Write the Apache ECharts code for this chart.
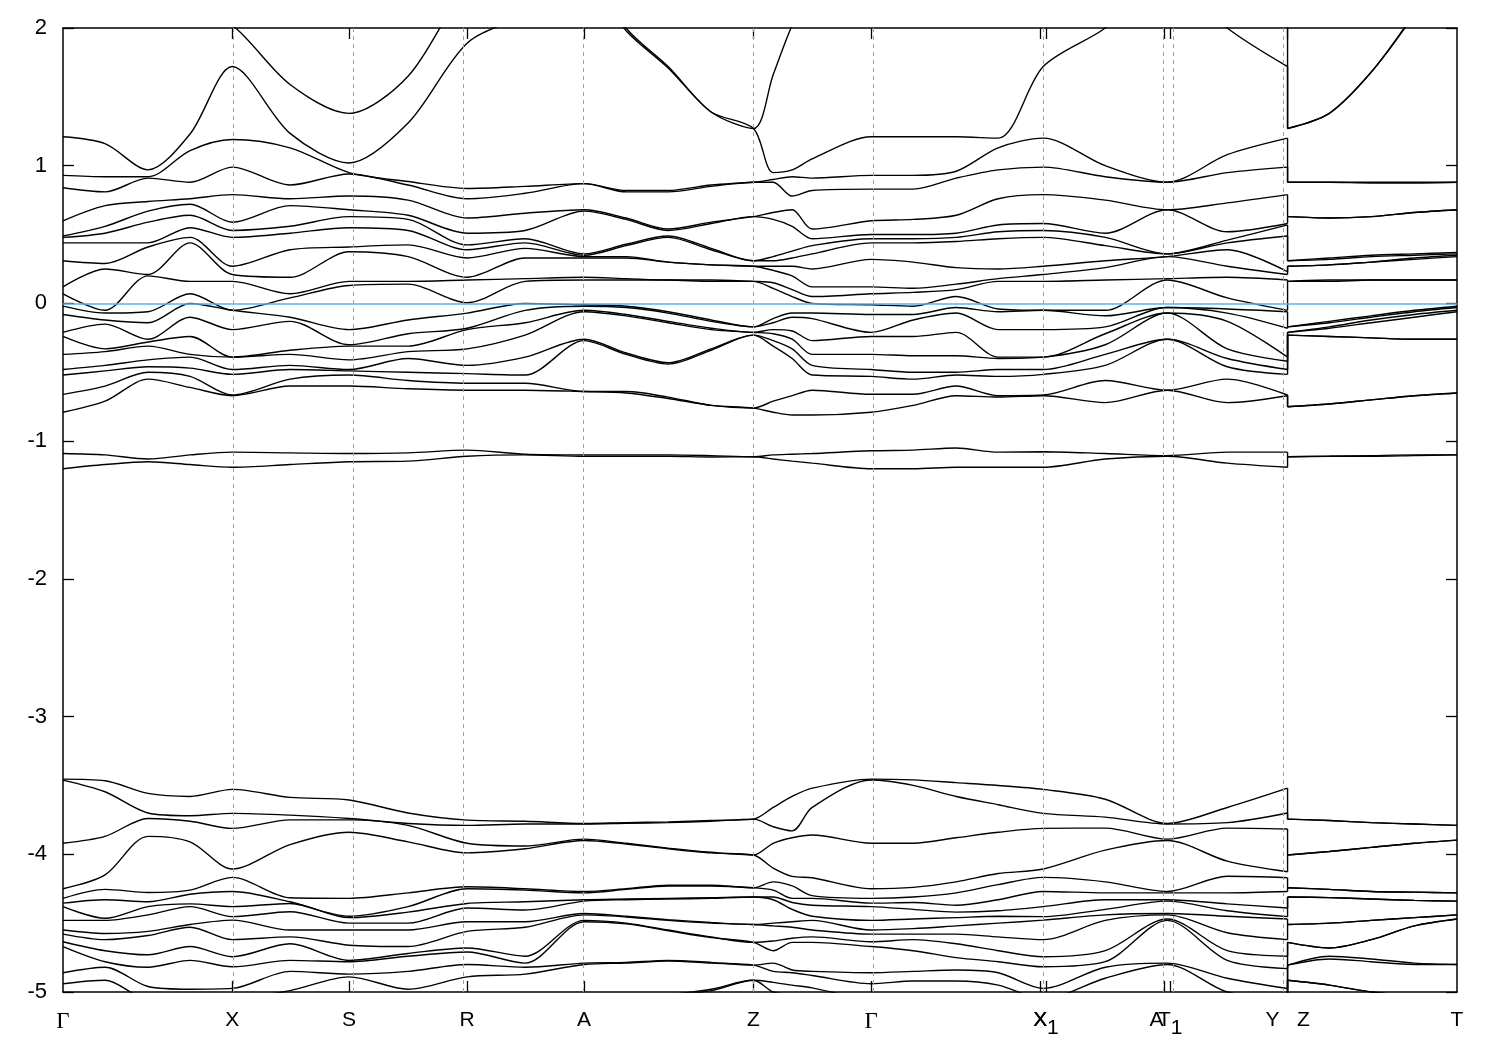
<!DOCTYPE html>
<html>
<head>
<meta charset="utf-8">
<script src="https://cdn.jsdelivr.net/npm/echarts@6/dist/echarts.min.js"></script>
<style>html,body{margin:0;padding:0;background:#fff}#c{width:1500px;height:1050px}</style>
</head>
<body>
<div id="c"></div>
<script>
// k-path positions of the sampled columns (path length units)
const kPoints = [0, 0.042, 0.085, 0.127, 0.1693, 0.227, 0.286, 0.345, 0.404, 0.462, 0.521, 0.563, 0.605, 0.648, 0.6903, 0.710, 0.729, 0.749, 0.808, 0.850, 0.893, 0.935, 0.980, 1.042, 1.104, 1.164, 1.2243, 1.2243, 1.266, 1.308, 1.351, 1.3937];
const kEnd = 1.3937;
// high-symmetry points
const kTickPos = [0.1693, 0.286, 0.404, 0.521, 0.6903, 0.808, 0.9773, 0.9827, 1.1013, 1.107, 1.2243];
const kLabelPos = [0, 0.1693, 0.286, 0.404, 0.521, 0.6903, 0.808, 0.9773, 0.9827, 1.1013, 1.107, 1.2243, 1.3937];
const kLabelText = ['Γ', 'X', 'S', 'R', 'A', 'Z', 'Γ', 'X', 'X_1', 'A<', 'T_1', 'Y   Z', 'T'];
const yTicks = [-5, -4, -3, -2, -1, 0, 1, 2];
const fermiLevel = 0;

// energies (eV) at each sampled k column, all bands
const e00 = [2.5, 1.21, 0.93, 0.84, 0.60, 0.49, 0.48, 0.44, 0.31, 0.12, 0.07, -0.02, -0.08, -0.21, -0.24, -0.37, -0.48, -0.52, -0.66, -0.79, -1.09, -1.20, -3.454, -3.461, -3.92, -4.25, -4.32, -4.355, -4.38, -4.48, -4.55, -4.58, -4.635, -4.67, -4.86, -4.94, -5.05, -5.1];
const e01 = [2.4, 1.16, 0.92, 0.81, 0.71, 0.56, 0.51, 0.44, 0.29, 0.25, -0.05, -0.07, -0.12, -0.15, -0.33, -0.35, -0.45, -0.49, -0.60, -0.71, -1.10, -1.17, -3.466, -3.546, -3.87, -4.15, -4.255, -4.33, -4.465, -4.48, -4.575, -4.62, -4.70, -4.78, -4.82, -4.915, -5.05, -5.1];
const e02 = [2.3, 0.97, 0.92, 0.91, 0.74, 0.67, 0.59, 0.44, 0.41, 0.21, 0.20, -0.06, -0.14, -0.26, -0.28, -0.31, -0.41, -0.46, -0.50, -0.55, -1.13, -1.15, -3.558, -3.70, -3.74, -3.87, -4.277, -4.345, -4.38, -4.44, -4.56, -4.59, -4.73, -4.82, -4.96, -5.05, -5.1, -5.15];
const e03 = [2.15, 1.23, 1.11, 0.88, 0.76, 0.72, 0.64, 0.55, 0.48, 0.44, 0.16, 0.07, 0.0, -0.10, -0.24, -0.37, -0.39, -0.47, -0.53, -0.61, -1.10, -1.17, -3.58, -3.72, -3.76, -3.91, -4.26, -4.29, -4.36, -4.38, -4.51, -4.53, -4.67, -4.77, -4.98, -5.05, -5.1, -5.15];
const e04 = [2.02, 1.72, 1.19, 0.99, 0.79, 0.59, 0.53, 0.48, 0.27, 0.21, 0.16, -0.05, -0.05, -0.19, -0.39, -0.39, -0.48, -0.515, -0.665, -0.67, -1.08, -1.19, -3.529, -3.703, -3.812, -4.107, -4.168, -4.27, -4.38, -4.453, -4.478, -4.62, -4.744, -4.817, -4.974, -5.05, -5.1, -5.15];
const e05 = [1.59, 1.235, 1.13, 0.86, 0.76, 0.71, 0.56, 0.51, 0.39, 0.19, 0.07, 0.04, -0.10, -0.13, -0.34, -0.37, -0.45, -0.48, -0.55, -0.60, -1.085, -1.17, -3.587, -3.716, -3.75, -3.93, -4.316, -4.345, -4.357, -4.417, -4.55, -4.60, -4.65, -4.77, -4.85, -4.99, -5.03, -5.1];
const e06 = [1.38, 1.02, 0.95, 0.94, 0.78, 0.68, 0.63, 0.55, 0.41, 0.375, 0.16, 0.13, -0.19, -0.30, -0.31, -0.41, -0.48, -0.49, -0.52, -0.60, -1.09, -1.15, -3.606, -3.74, -3.75, -3.84, -4.32, -4.45, -4.46, -4.50, -4.55, -4.66, -4.77, -4.78, -4.87, -4.89, -5.05, -5.1];
const e07 = [1.65, 1.31, 0.885, 0.86, 0.75, 0.64, 0.61, 0.53, 0.425, 0.34, 0.16, 0.14, -0.12, -0.22, -0.31, -0.35, -0.40, -0.50, -0.56, -0.62, -1.085, -1.145, -3.70, -3.776, -3.79, -3.91, -4.28, -4.38, -4.42, -4.50, -4.55, -4.67, -4.72, -4.74, -4.85, -4.98, -5.05, -5.1];
const e08 = [2.3, 1.89, 0.835, 0.76, 0.62, 0.51, 0.425, 0.39, 0.33, 0.19, 0.17, 0.005, -0.07, -0.18, -0.19, -0.33, -0.45, -0.51, -0.58, -0.63, -1.065, -1.11, -3.752, -3.79, -3.92, -3.99, -4.236, -4.25, -4.357, -4.39, -4.49, -4.56, -4.68, -4.71, -4.80, -4.89, -5.05, -5.1];
const e09 = [2.6, 2.1, 0.85, 0.80, 0.655, 0.53, 0.47, 0.44, 0.40, 0.33, 0.18, 0.16, 0.0, -0.05, -0.14, -0.23, -0.39, -0.52, -0.58, -0.63, -1.095, -1.10, -3.76, -3.78, -3.94, -3.96, -4.25, -4.26, -4.345, -4.405, -4.49, -4.53, -4.74, -4.79, -4.82, -4.87, -5.05, -5.1];
const e10 = [2.5, 2.4, 0.87, 0.87, 0.68, 0.67, 0.36, 0.35, 0.34, 0.33, 0.19, 0.17, -0.01, -0.02, -0.05, -0.06, -0.26, -0.27, -0.64, -0.64, -1.10, -1.11, -3.776, -3.78, -3.89, -3.90, -4.27, -4.28, -4.33, -4.34, -4.43, -4.44, -4.48, -4.49, -4.79, -4.80, -5.05, -5.1];
const e11 = [2.0, 1.98, 0.82, 0.81, 0.62, 0.61, 0.43, 0.42, 0.34, 0.33, 0.18, 0.17, -0.02, -0.03, -0.08, -0.09, -0.36, -0.37, -0.64, -0.65, -1.10, -1.11, -3.77, -3.775, -3.92, -3.925, -4.25, -4.255, -4.325, -4.33, -4.45, -4.455, -4.50, -4.505, -4.785, -4.79, -5.05, -5.08];
const e12 = [1.72, 1.71, 0.82, 0.81, 0.54, 0.53, 0.49, 0.48, 0.30, 0.30, 0.17, 0.17, -0.06, -0.07, -0.13, -0.14, -0.43, -0.44, -0.68, -0.69, -1.10, -1.11, -3.765, -3.77, -3.955, -3.96, -4.225, -4.23, -4.32, -4.325, -4.475, -4.48, -4.55, -4.555, -4.77, -4.775, -5.02, -5.03];
const e13 = [1.39, 1.39, 0.86, 0.85, 0.59, 0.58, 0.40, 0.39, 0.28, 0.28, 0.17, 0.16, -0.12, -0.13, -0.18, -0.19, -0.33, -0.34, -0.74, -0.74, -1.105, -1.115, -3.755, -3.76, -3.985, -3.99, -4.225, -4.23, -4.315, -4.32, -4.495, -4.50, -4.60, -4.605, -4.785, -4.79, -4.98, -4.99];
const e14 = [1.27, 1.27, 0.88, 0.88, 0.63, 0.63, 0.31, 0.31, 0.27, 0.27, 0.16, 0.16, -0.17, -0.17, -0.21, -0.21, -0.23, -0.23, -0.76, -0.76, -1.113, -1.113, -3.745, -3.745, -4.005, -4.005, -4.243, -4.243, -4.31, -4.31, -4.51, -4.51, -4.64, -4.64, -4.805, -4.805, -4.915, -4.915];
const e15 = [1.66, 0.95, 0.90, 0.88, 0.66, 0.61, 0.34, 0.31, 0.27, 0.24, 0.15, 0.11, -0.11, -0.14, -0.19, -0.22, -0.27, -0.31, -0.71, -0.79, -1.10, -1.13, -3.66, -3.80, -3.92, -4.10, -4.20, -4.26, -4.31, -4.33, -4.50, -4.52, -4.63, -4.70, -4.79, -4.85, -4.93, -5.0];
const e16 = [2.02, 0.97, 0.92, 0.78, 0.68, 0.56, 0.38, 0.33, 0.27, 0.20, 0.10, 0.05, -0.07, -0.10, -0.20, -0.26, -0.33, -0.40, -0.67, -0.81, -1.095, -1.145, -3.58, -3.83, -3.88, -4.16, -4.23, -4.32, -4.35, -4.40, -4.49, -4.53, -4.61, -4.64, -4.84, -4.86, -4.95, -5.02];
const e17 = [2.3, 1.05, 0.91, 0.82, 0.54, 0.47, 0.42, 0.36, 0.25, 0.12, 0.05, 0.0, -0.07, -0.11, -0.27, -0.37, -0.45, -0.52, -0.63, -0.81, -1.09, -1.16, -3.52, -3.66, -3.86, -4.17, -4.30, -4.32, -4.37, -4.45, -4.48, -4.55, -4.60, -4.64, -4.85, -4.88, -4.97, -5.05];
const e18 = [2.5, 1.21, 0.93, 0.83, 0.60, 0.50, 0.47, 0.44, 0.32, 0.12, 0.07, -0.01, -0.08, -0.21, -0.24, -0.37, -0.48, -0.53, -0.66, -0.79, -1.07, -1.20, -3.454, -3.461, -3.92, -4.25, -4.32, -4.355, -4.38, -4.48, -4.55, -4.58, -4.635, -4.67, -4.86, -4.94, -5.05, -5.1];
const e19 = [2.2, 1.21, 0.93, 0.83, 0.61, 0.50, 0.47, 0.44, 0.30, 0.11, 0.08, -0.02, -0.08, -0.12, -0.24, -0.38, -0.50, -0.55, -0.66, -0.74, -1.065, -1.20, -3.46, -3.50, -3.92, -4.24, -4.31, -4.35, -4.40, -4.47, -4.54, -4.58, -4.62, -4.70, -4.85, -4.92, -5.05, -5.1];
const e20 = [2.1, 1.21, 0.96, 0.91, 0.64, 0.51, 0.48, 0.45, 0.26, 0.14, 0.10, 0.05, -0.03, -0.07, -0.21, -0.38, -0.50, -0.52, -0.60, -0.67, -1.05, -1.19, -3.48, -3.58, -3.88, -4.20, -4.28, -4.37, -4.42, -4.46, -4.52, -4.58, -4.65, -4.75, -4.84, -4.92, -5.05, -5.1];
const e21 = [2.08, 1.20, 1.13, 0.97, 0.76, 0.57, 0.52, 0.47, 0.25, 0.18, 0.16, -0.04, -0.06, -0.19, -0.39, -0.40, -0.48, -0.53, -0.67, -0.68, -1.08, -1.19, -3.50, -3.64, -3.84, -4.14, -4.22, -4.33, -4.41, -4.45, -4.50, -4.60, -4.70, -4.78, -4.86, -4.95, -5.05, -5.1];
const e22 = [2.05, 1.72, 1.20, 0.99, 0.79, 0.58, 0.53, 0.48, 0.27, 0.21, 0.16, -0.05, -0.05, -0.19, -0.39, -0.39, -0.48, -0.515, -0.665, -0.67, -1.077, -1.19, -3.529, -3.703, -3.812, -4.107, -4.168, -4.27, -4.38, -4.453, -4.478, -4.62, -4.744, -4.817, -4.974, -5.05, -5.1, -5.15];
const e23 = [2.3, 2.0, 1.0, 0.92, 0.75, 0.51, 0.48, 0.42, 0.31, 0.26, 0.17, -0.05, -0.09, -0.17, -0.22, -0.30, -0.37, -0.45, -0.56, -0.72, -1.09, -1.13, -3.60, -3.73, -3.81, -3.97, -4.20, -4.28, -4.33, -4.40, -4.44, -4.48, -4.70, -4.78, -4.82, -4.90, -5.05, -5.1];
const e24 = [2.5, 2.4, 0.88, 0.88, 0.68, 0.68, 0.36, 0.36, 0.34, 0.34, 0.18, 0.17, -0.03, -0.03, -0.07, -0.07, -0.26, -0.26, -0.63, -0.63, -1.105, -1.11, -3.776, -3.78, -3.89, -3.90, -4.27, -4.28, -4.33, -4.34, -4.43, -4.44, -4.47, -4.48, -4.79, -4.80, -5.05, -5.1];
const e25 = [2.05, 2.0, 1.08, 0.95, 0.73, 0.52, 0.46, 0.44, 0.39, 0.27, 0.19, 0.04, -0.04, -0.07, -0.13, -0.33, -0.40, -0.46, -0.55, -0.72, -1.08, -1.16, -3.66, -3.77, -3.81, -4.05, -4.16, -4.28, -4.36, -4.41, -4.45, -4.57, -4.70, -4.77, -4.90, -5.0, -5.05, -5.1];
const e26 = [2.02, 1.72, 1.20, 0.99, 0.79, 0.58, 0.57, 0.49, 0.23, 0.21, 0.17, -0.05, -0.06, -0.18, -0.39, -0.42, -0.48, -0.515, -0.665, -0.67, -1.08, -1.19, -3.52, -3.70, -3.816, -4.127, -4.17, -4.27, -4.39, -4.453, -4.47, -4.62, -4.74, -4.83, -4.975, -5.05, -5.1, -5.15];
const e27 = [1.27, 1.27, 0.88, 0.88, 0.63, 0.63, 0.31, 0.31, 0.27, 0.27, 0.16, 0.16, -0.17, -0.17, -0.21, -0.21, -0.23, -0.23, -0.75, -0.75, -1.113, -1.113, -3.745, -3.745, -4.005, -4.005, -4.243, -4.243, -4.31, -4.31, -4.51, -4.51, -4.64, -4.64, -4.805, -4.805, -4.915, -4.915];
const e28 = [1.38, 1.38, 0.88, 0.88, 0.62, 0.62, 0.33, 0.32, 0.28, 0.28, 0.17, 0.16, -0.13, -0.14, -0.17, -0.18, -0.24, -0.24, -0.73, -0.73, -1.11, -1.11, -3.755, -3.755, -3.98, -3.98, -4.255, -4.255, -4.315, -4.315, -4.50, -4.50, -4.68, -4.68, -4.74, -4.76, -4.95, -4.95];
const e29 = [1.68, 1.68, 0.88, 0.875, 0.63, 0.63, 0.35, 0.34, 0.30, 0.30, 0.17, 0.17, -0.09, -0.10, -0.12, -0.14, -0.25, -0.25, -0.70, -0.70, -1.105, -1.11, -3.77, -3.77, -3.95, -3.95, -4.27, -4.27, -4.325, -4.325, -4.48, -4.48, -4.62, -4.62, -4.76, -4.78, -5.0, -5.0];
const e30 = [2.1, 2.1, 0.88, 0.875, 0.66, 0.66, 0.36, 0.35, 0.33, 0.32, 0.17, 0.17, -0.05, -0.06, -0.08, -0.10, -0.26, -0.26, -0.67, -0.67, -1.10, -1.105, -3.78, -3.78, -3.92, -3.92, -4.275, -4.275, -4.335, -4.335, -4.46, -4.46, -4.52, -4.52, -4.79, -4.80, -5.03, -5.03];
const e31 = [2.6, 2.5, 0.88, 0.88, 0.68, 0.68, 0.37, 0.36, 0.35, 0.34, 0.17, 0.17, -0.02, -0.03, -0.05, -0.06, -0.26, -0.26, -0.65, -0.65, -1.10, -1.10, -3.79, -3.79, -3.897, -3.897, -4.28, -4.28, -4.34, -4.34, -4.44, -4.44, -4.47, -4.47, -4.80, -4.80, -5.05, -5.05];

const columns = [e00, e01, e02, e03, e04, e05, e06, e07, e08, e09, e10, e11, e12, e13, e14, e15,
                 e16, e17, e18, e19, e20, e21, e22, e23, e24, e25, e26, e27, e28, e29, e30, e31]
  .map(c => c.slice().sort((a, b) => b - a));

const yIdx = 26, zIdx = 27;   // the Y | Z discontinuity
const nBands = columns[0].length;
const bandStyle = { color: '#000', width: 1.4 };
const series = [];

series.push({
  type: 'line', data: [], z: 1, silent: true, animation: false,
  markLine: {
    silent: true, symbol: ['none', 'none'], label: { show: false }, animation: false,
    lineStyle: { color: '#a0a0a0', type: [4, 4], width: 1 },
    emphasis: { disabled: true },
    data: kTickPos.map(v => ({ xAxis: v }))
  }
});

for (let n = 0; n < nBands; n++) {
  const pts = kPoints.map((k, i) => [k, columns[i][n]]);
  const common = { type: 'line', symbol: 'none', silent: true, animation: false, z: 3, lineStyle: bandStyle, emphasis: { disabled: true } };
  series.push(Object.assign({}, common, { data: pts.slice(0, yIdx + 1), smooth: 0.3 }));
  series.push(Object.assign({}, common, { data: pts.slice(yIdx, zIdx + 1), smooth: false }));
  series.push(Object.assign({}, common, { data: pts.slice(zIdx), smooth: 0.3 }));
}

series.push({
  type: 'line', data: [], z: 6, silent: true, animation: false,
  markLine: {
    silent: true, symbol: ['none', 'none'], label: { show: false }, animation: false,
    lineStyle: { color: '#56b4e9', type: 'solid', width: 1.5 },
    emphasis: { disabled: true },
    data: [{ yAxis: fermiLevel }]
  }
});

const sansFont = '"Liberation Sans", Arial, Helvetica, sans-serif';
const labelRich = {
  n: { fontSize: 21, fontFamily: sansFont, color: '#000', lineHeight: 28, verticalAlign: 'top' },
  l: { fontSize: 21, fontFamily: sansFont, color: '#000', lineHeight: 28, verticalAlign: 'top', padding: [0, 16, 0, 0] },
  s: { fontSize: 21, fontFamily: sansFont, color: '#000', lineHeight: 28, verticalAlign: 'top', padding: [8, 0, 0, 0] },
  g: { fontSize: 23, fontFamily: '"Liberation Serif", "DejaVu Serif", serif', color: '#000', lineHeight: 28, verticalAlign: 'top' }
};
function kLabel(v) {
  let idx = -1;
  kLabelPos.forEach((p, i) => { if (Math.abs(p - v) < 1e-6) idx = i; });
  if (idx < 0) return '';
  const t = kLabelText[idx];
  if (t === 'Γ') return '{g|Γ}';
  if (t.slice(-1) === '<') return '{l|' + t.slice(0, -1) + '}';
  if (t.indexOf('_') > 0) { const p = t.split('_'); return '{n|' + p[0] + '}{s|' + p[1] + '}'; }
  return '{n|' + t + '}';
}

const frameLine = { show: true, onZero: false, lineStyle: { color: '#000', width: 1.5 } };
const tickStyle = { color: '#000', width: 1.3 };

const option = {
  animation: false,
  backgroundColor: '#fff',
  grid: { left: 63, right: 43, top: 28, bottom: 58, containLabel: false },
  xAxis: [
    { type: 'value', min: 0, max: kEnd, position: 'bottom',
      axisLine: frameLine,
      axisTick: { show: true, inside: true, length: 11, customValues: kTickPos, lineStyle: tickStyle },
      axisLabel: { show: true, customValues: kLabelPos, margin: 18, formatter: kLabel, rich: labelRich,
                   showMinLabel: true, showMaxLabel: true, hideOverlap: false },
      splitLine: { show: false } },
    { type: 'value', min: 0, max: kEnd, position: 'top',
      axisLine: frameLine,
      axisTick: { show: true, inside: true, length: 11, customValues: kTickPos, lineStyle: tickStyle },
      axisLabel: { show: false }, splitLine: { show: false } }
  ],
  yAxis: [
    { type: 'value', min: -5, max: 2, interval: 1, position: 'left',
      axisLine: frameLine,
      axisTick: { show: true, inside: true, length: 11, lineStyle: tickStyle },
      axisLabel: { show: true, margin: 16, fontSize: 22, color: '#000', fontFamily: sansFont,
                   customValues: yTicks, showMinLabel: true, showMaxLabel: true },
      splitLine: { show: false } },
    { type: 'value', min: -5, max: 2, interval: 1, position: 'right',
      axisLine: frameLine,
      axisTick: { show: true, inside: true, length: 11, lineStyle: tickStyle },
      axisLabel: { show: false }, splitLine: { show: false } }
  ],
  series: series
};

const chart = echarts.init(document.getElementById('c'), null, { renderer: 'canvas' });
chart.setOption(option);
</script>
</body>
</html>
